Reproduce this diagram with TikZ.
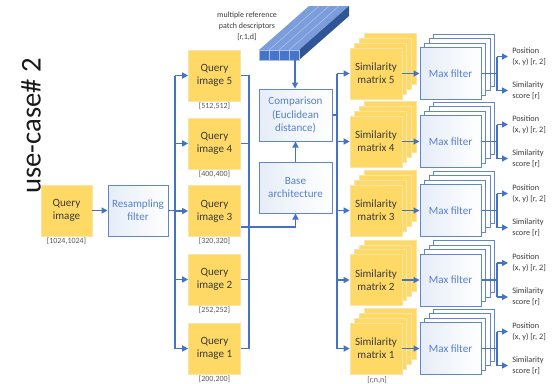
\documentclass[tikz,border=0pt]{standalone}
\usepackage{fontspec}
\setmainfont{Carlito}
\usetikzlibrary{arrows.meta,calc}
\definecolor{gold}{HTML}{FFD966}
\definecolor{goldedge}{HTML}{F7E4A8}
\definecolor{office}{HTML}{4472C4}
\definecolor{paleblue}{HTML}{E6EDF8}
\definecolor{ink}{HTML}{3A3A3A}
\definecolor{note}{HTML}{5A5A5A}
\definecolor{barfront}{HTML}{4674C8}
\definecolor{bartop}{HTML}{7C9DDB}
\definecolor{barside}{HTML}{2F5597}
\definecolor{barline}{HTML}{A9BFE8}

\begin{document}
\begin{tikzpicture}[x=0.75pt,y=-0.75pt,
  ybox/.style={rectangle, fill=gold, draw=goldedge, line width=0.5pt, inner sep=0pt,
    align=center, text=ink, font=\fontsize{8.3}{9.8}\selectfont},
  bbox/.style={rectangle, draw=office!85!white, line width=0.75pt, left color=paleblue,
    right color=white, inner sep=0pt, align=center, text=office!90!white,
    font=\fontsize{8.3}{9.8}\selectfont},
  mflayer/.style={rectangle, draw=office!85!white, fill=white, line width=0.75pt,
    minimum width=45.75pt, minimum height=39pt, inner sep=0pt},
  smlayer/.style={ybox, minimum width=39pt, minimum height=38.25pt},
  wire/.style={draw=office, line width=1pt},
  flow/.style={wire, -{Triangle[length=4.5pt,width=4.5pt]}},
  dim/.style={font=\fontsize{6}{8.2}\selectfont, text=note, inner sep=0pt},
  outlbl/.style={font=\fontsize{6.2}{8.4}\selectfont, text=ink, align=left,
    anchor=west, inner sep=0pt}
]
\useasboundingbox (0,0) rectangle (552,383);

% title
\node[rotate=90, font=\fontsize{21.5}{26}\selectfont, text=black!90] (title) at (31,126) {use-case\# 2};

% input image and resampling
\node[ybox, minimum width=38.25pt, minimum height=38.25pt] (q0) at (66.5,210.5) {Query\\image};
\node[dim] (q0dim) at (66.5,241.5) {[1024,1024]};
\node[bbox, minimum width=45pt, minimum height=38.25pt] (rs) at (138,210.5) {Resampling\\filter};
\draw[flow] (q0.east) -- (rs.west);

% image pyramid
\foreach \i/\y/\d in {5/75.5/{[512,512]},4/143.5/{[400,400]},3/211/{[320,320]},2/279.5/{[252,252]},1/348.5/{[200,200]}}{
  \node[ybox, minimum width=39pt, minimum height=38.25pt] (q\i) at (214.5,\y) {Query\\image \i};
  \node[dim] (q\i dim) at (214.5,\y+30.5) {\d};
}

% fan-out to the pyramid
\coordinate (fanTop) at (175,75.5);
\coordinate (fanBot) at (175,348.5);
\draw[wire] (fanTop) -- (fanBot);
\draw[wire] (rs.east) -- (rs.east -| fanTop);
\foreach \i in {1,...,5}{
  \draw[flow] (q\i.west -| fanTop) -- (q\i.west);
}

% base network and comparison
\node[bbox, minimum width=54.75pt, minimum height=38.25pt] (base) at (295.5,187.5) {Base\\architecture};
\node[bbox, minimum width=54.75pt, minimum height=39pt] (cmp) at (295.5,115) {Comparison\\(Euclidean\\distance)};

% collector from the pyramid into the base network
\coordinate (colTop) at (249,75.5);
\coordinate (colBot) at (249,348.5);
\draw[wire] (q5.east) -- (colTop) -- (colBot) -- (q1.east);
\draw[wire] (q4.east) -- (q4.east -| colTop);
\draw[wire] (q2.east) -- (q2.east -| colTop);
\coordinate (q3tap) at ($(q3.east)+(0,16)$);
\draw[flow] (q3tap) -| (base.south);
\draw[flow] (base.north) -- (cmp.south);

% reference descriptor bar
\fill[bartop] (259,50) -- (299,50) -- (349,6) -- (309,6) -- cycle;
\foreach \k in {1,2,3}{
  \draw[barline, line width=0.5pt] (259+10*\k,50) -- ++(50,-44);
}
\fill[barside] (299,50) -- (349,6) -- (349,16) -- (299,60) -- cycle;
\foreach \k in {0,1,2,3}{
  \draw[fill=barfront, draw=barline, line width=0.5pt] (259+10*\k,50) rectangle ++(10,10);
}
\node[dim, align=center, text=ink] (desclbl) at (247,26) {multiple reference\\patch descriptors\\{[r,1,d]}};
\coordinate (descTip) at (295,60);
\draw[flow] (descTip) -- (descTip |- cmp.north);

% distribution to the similarity matrices
\coordinate (distTop) at (337,73.5);
\coordinate (distBot) at (337,348.5);
\draw[wire] (cmp.east) -- (cmp.east -| distTop);
\draw[wire] (distTop) -- (distBot);

\foreach \i/\y in {5/73.5,4/141.5,3/210.5,2/280,1/348.5}{
  % similarity matrix stack
  \foreach \k in {3,2,1}{
    \node[smlayer] at (376+4.8*\k,\y-4.8*\k) {};
  }
  \node[smlayer] (s\i) at (376,\y) {Similarity\\matrix \i};
  % max filter stack
  \foreach \k in {3,2,1}{
    \node[mflayer] at (450.5+4.5*\k,\y-4.5*\k) {};
  }
  \node[bbox, minimum width=45.75pt, minimum height=39pt] (m\i) at (450.5,\y) {Max filter};
  \draw[flow] (s\i.west -| distTop) -- (s\i.west);
  \draw[flow] (s\i.east) -- (m\i.west);
  % outputs
  \coordinate (o\i) at (497,\y);
  \node[outlbl] (p\i) at (512,\y-17) {Position\\(x, y) [r, 2]};
  \node[outlbl] (c\i) at (512,\y+17) {Similarity\\score [r]};
  \draw[wire] (m\i.east) -- (o\i);
  \draw[wire] (o\i |- p\i.west) -- (o\i |- c\i.west);
  \draw[flow, shorten >=3pt] (o\i |- p\i.west) -- (p\i.west);
  \draw[flow, shorten >=3pt] (o\i |- c\i.west) -- (c\i.west);
}
\node[dim] (sdim) at (377,380) {[r,n,n]};
\end{tikzpicture}
\end{document}
